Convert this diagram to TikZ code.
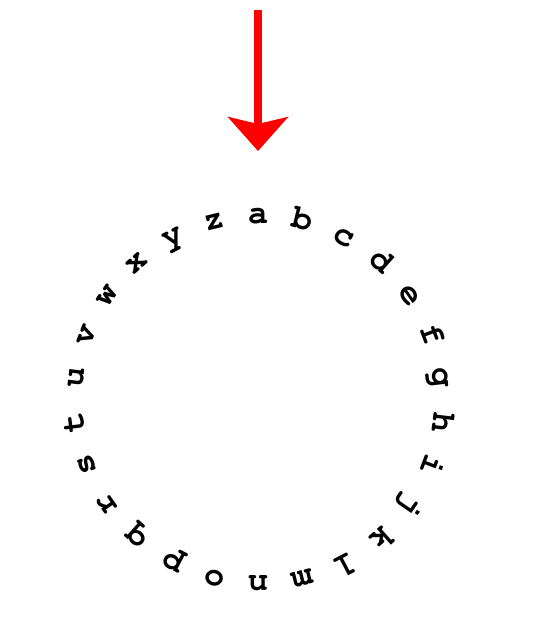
\documentclass[tikz,border=0pt]{standalone}
\usepackage[T1,TU]{fontenc}
\usepackage{fontspec}
\usetikzlibrary{arrows.meta,calc}
\begin{document}
\begin{tikzpicture}[x=1pt,y=1pt,
  wheelletter/.style={font=\fontencoding{T1}\fontfamily{pcr}\fontseries{b}\fontshape{n}\fontsize{34}{34}\selectfont, inner sep=0pt, anchor=base},
  pointer/.style={draw=red, line width=8pt, -{Stealth[length=34pt, width=60pt, inset=7pt]}}]
\useasboundingbox (0,0) rectangle (543,627);
\coordinate (center) at (258,227);
\foreach \l [count=\i from 0] in {a,b,c,d,e,f,g,h,i,j,k,l,m,n,o,p,q,r,s,t,u,v,w,x,y,z}{
  \pgfmathsetmacro{\ang}{90-\i*360/26}
  \node[wheelletter, rotate=\ang-90] (\l) at ($(center)+(\ang:176)$) {\l};
}
\coordinate (arrowtop) at (258,617);
\coordinate (arrowtip) at (258,476);
\draw[pointer] (arrowtop) -- (arrowtip);
\end{tikzpicture}
\end{document}
